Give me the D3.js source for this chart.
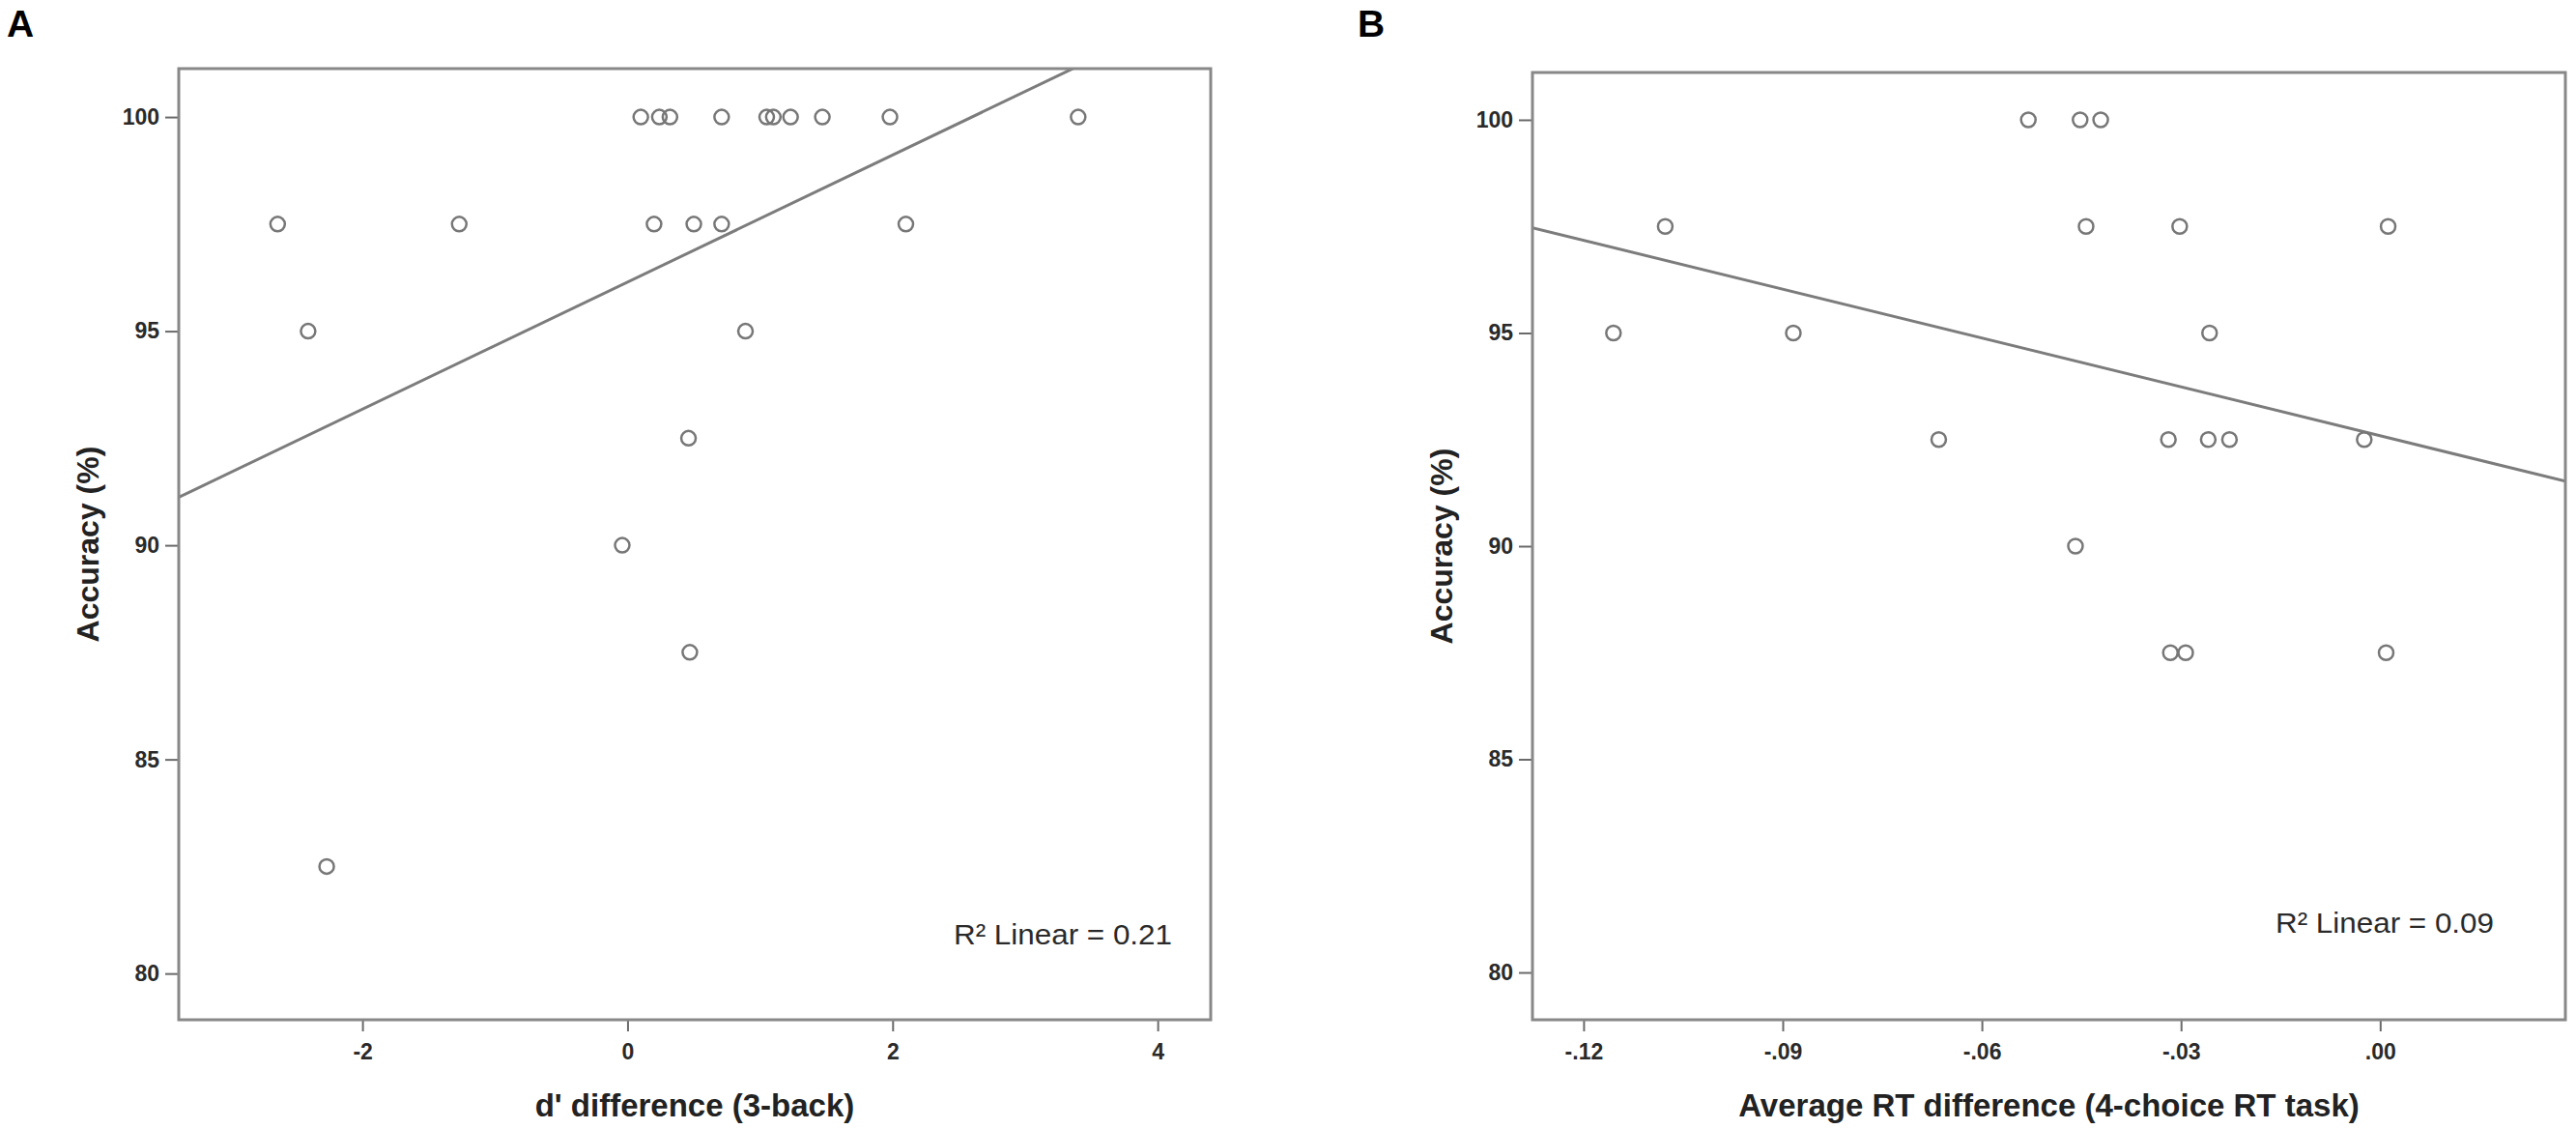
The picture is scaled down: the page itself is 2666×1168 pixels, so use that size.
<!DOCTYPE html>
<html>
<head>
<meta charset="utf-8">
<script src="https://cdn.jsdelivr.net/npm/d3@7"></script>
<style>
    body { margin: 0; background: #fff; }
    svg { display: block; font-family: "Liberation Sans", Arial, sans-serif; }
</style>
</head>
<body>
<svg id="chart" width="2666" height="1168"></svg>
<script>
// Panel A: d' difference (3-back) vs accuracy
const dPrimeDiff = [0.10, 0.24, 0.32, 0.71, 1.05, 1.10, 1.23, 1.47, 1.98, 3.40,
                    -2.64, -1.27, 0.20, 0.50, 0.71, 2.10,
                    -2.41, 0.89, 0.46, -0.04, 0.47, -2.27];
const accuracyA = [100, 100, 100, 100, 100, 100, 100, 100, 100, 100,
                   97.5, 97.5, 97.5, 97.5, 97.5, 97.5,
                   95, 95, 92.5, 90, 87.5, 82.5];

// Panel B: average RT difference (4-choice RT task) vs accuracy
const rtDiff = [-0.0530, -0.0452, -0.0421,
                -0.1077, -0.0443, -0.0302, 0.0012,
                -0.1155, -0.0884, -0.0257,
                -0.0665, -0.0319, -0.0259, -0.0227, -0.0024,
                -0.0459,
                -0.0316, -0.0293, 0.0009];
const accuracyB = [100, 100, 100,
                   97.5, 97.5, 97.5, 97.5,
                   95, 95, 95,
                   92.5, 92.5, 92.5, 92.5, 92.5,
                   90,
                   87.5, 87.5, 87.5];

const yTicks = [80, 85, 90, 95, 100];
const xTicksA = [-2, 0, 2, 4];
const xTickLabelsA = ['-2', '0', '2', '4'];
const xTicksB = [-0.12, -0.09, -0.06, -0.03, 0];
const xTickLabelsB = ['-.12', '-.09', '-.06', '-.03', '.00'];

const svg = d3.select('#chart');

// least squares fit, returns slope, intercept, r2
function linearFit(xs, ys) {
    const mx = d3.mean(xs), my = d3.mean(ys);
    let sxy = 0, sxx = 0, syy = 0;
    xs.forEach((x, i) => {
        sxy += (x - mx) * (ys[i] - my);
        sxx += (x - mx) * (x - mx);
        syy += (ys[i] - my) * (ys[i] - my);
    });
    const slope = sxy / sxx;
    return { slope, intercept: my - slope * mx, r2: (sxy * sxy) / (sxx * syy) };
}

function drawPanel(p) {
    const g = svg.append('g');

    const x = d3.scaleLinear().domain(p.xDomain).range([p.left, p.right]);
    const y = d3.scaleLinear().domain(p.yDomain).range([p.bottom, p.top]);

    // panel letter
    g.append('text')
        .attr('x', p.letterX).attr('y', 38)
        .attr('font-size', 39).attr('font-weight', 'bold')
        .attr('fill', '#000')
        .text(p.letter);

    // axes
    const xAxis = g.append('g')
        .attr('transform', `translate(0,${p.bottom})`)
        .call(d3.axisBottom(x).tickValues(p.xTicks)
            .tickFormat((d, i) => p.xTickLabels[i])
            .tickSize(12).tickPadding(13));
    const yAxis = g.append('g')
        .attr('transform', `translate(${p.left},0)`)
        .call(d3.axisLeft(y).tickValues(yTicks)
            .tickFormat(d3.format('d'))
            .tickSize(14).tickPadding(6));
    [xAxis, yAxis].forEach(a => {
        a.select('.domain').remove();
        a.selectAll('line').attr('stroke', '#6a6a6a').attr('stroke-width', 2);
        a.selectAll('text')
            .attr('font-family', '"Liberation Sans", Arial, sans-serif')
            .attr('font-size', 23).attr('font-weight', 'bold')
            .attr('fill', '#2a2a2a');
    });

    // clip for the fit line
    const clipId = 'clip-' + p.letter;
    g.append('clipPath').attr('id', clipId)
        .append('rect')
        .attr('x', p.left).attr('y', p.top)
        .attr('width', p.right - p.left).attr('height', p.bottom - p.top);

    const fit = linearFit(p.xs, p.ys);
    g.append('line')
        .attr('clip-path', `url(#${clipId})`)
        .attr('x1', x(p.xDomain[0])).attr('y1', y(fit.intercept + fit.slope * p.xDomain[0]))
        .attr('x2', x(p.xDomain[1])).attr('y2', y(fit.intercept + fit.slope * p.xDomain[1]))
        .attr('stroke', '#7c7c7c').attr('stroke-width', 3);

    // points
    g.append('g')
        .selectAll('circle')
        .data(p.xs.map((v, i) => [v, p.ys[i]]))
        .enter().append('circle')
        .attr('cx', d => x(d[0]))
        .attr('cy', d => y(d[1]))
        .attr('r', 7.5)
        .attr('fill', 'none')
        .attr('stroke', '#777')
        .attr('stroke-width', 2.5);

    // frame
    g.append('rect')
        .attr('x', p.left).attr('y', p.top)
        .attr('width', p.right - p.left).attr('height', p.bottom - p.top)
        .attr('fill', 'none')
        .attr('stroke', '#888')
        .attr('stroke-width', 3);

    // R2 label
    g.append('text')
        .attr('x', p.r2X).attr('y', p.r2Y)
        .attr('text-anchor', 'end')
        .attr('font-size', 30)
        .attr('fill', '#2a2a2a')
        .attr('textLength', 226).attr('lengthAdjust', 'spacingAndGlyphs')
        .text('R² Linear = ' + d3.format('.2f')(fit.r2));

    // axis titles
    g.append('text')
        .attr('x', (p.left + p.right) / 2).attr('y', 1155)
        .attr('text-anchor', 'middle')
        .attr('font-size', 33).attr('font-weight', 'bold')
        .attr('fill', '#222')
        .text(p.xTitle);

    g.append('text')
        .attr('transform', `translate(${p.left - 83},${(p.top + p.bottom) / 2}) rotate(-90)`)
        .attr('text-anchor', 'middle')
        .attr('font-size', 32).attr('font-weight', 'bold')
        .attr('fill', '#222')
        .text('Accuracy (%)');
}

drawPanel({
    letter: 'A', letterX: 7,
    xs: dPrimeDiff, ys: accuracyA,
    xDomain: [-3.386, 4.40], yDomain: [78.92, 101.13],
    left: 185, right: 1253, top: 71, bottom: 1055,
    xTicks: xTicksA, xTickLabels: xTickLabelsA,
    r2X: 1213, r2Y: 977,
    xTitle: "d' difference (3-back)"
});

drawPanel({
    letter: 'B', letterX: 1405,
    xs: rtDiff, ys: accuracyB,
    xDomain: [-0.1277, 0.0279], yDomain: [78.89, 101.11],
    left: 1586, right: 2655, top: 75, bottom: 1055,
    xTicks: xTicksB, xTickLabels: xTickLabelsB,
    r2X: 2581, r2Y: 965,
    xTitle: 'Average RT difference (4-choice RT task)'
});
</script>
</body>
</html>
